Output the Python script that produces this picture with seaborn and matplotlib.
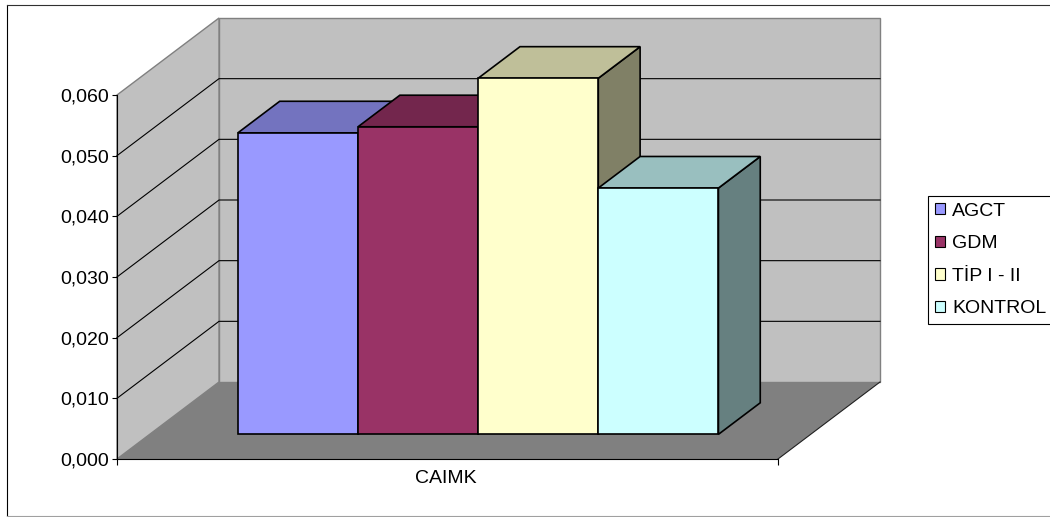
import numpy as np
import pandas as pd
import matplotlib
matplotlib.use("Agg")
import matplotlib.pyplot as plt
import seaborn as sns
from matplotlib.patches import Polygon, Patch
from matplotlib.lines import Line2D

# ---- data ----
categories = ["CAIMK"]
groups = ["AGCT", "GDM", "TİP I - II", "KONTROL"]
values = [0.0497, 0.0507, 0.0587, 0.0406]
yticks = [0.000, 0.010, 0.020, 0.030, 0.040, 0.050, 0.060]
ytick_labels = ["0,000", "0,010", "0,020", "0,030", "0,040", "0,050", "0,060"]

# ---- style ----
front_colors = ["#9999FF", "#993366", "#FFFFCC", "#CCFFFF"]
wall_color = "#C0C0C0"
floor_color = "#808080"
edge_gray = "#808080"
DEPTH_PX = (102, 77)        # oblique offset of the full chart depth, in pixels
BAR_DEPTH = (0.32, 0.73)    # bars occupy this slice of the depth

plt.rcParams["font.family"] = ["Liberation Sans", "DejaVu Sans"]

W, H = 1050, 517
fig = plt.figure(figsize=(W / 100, H / 100), dpi=100)
fig.patch.set_facecolor("white")
ax = fig.add_axes([117 / W, (H - 459) / H, 661 / W, 364 / H])

df = pd.DataFrame({
    "category": categories * len(groups),
    "group": groups,
    "value": values,
})

sns.barplot(data=df, x="category", y="value", hue="group", hue_order=groups,
            palette=front_colors, width=0.727, saturation=1, errorbar=None,
            edgecolor="black", linewidth=1.2, legend=False, ax=ax)

ax.set_xlim(-0.497, 0.503)
ax.set_ylim(0, 0.06)
ax.set_xlabel("")
ax.set_ylabel("")
ax.patch.set_visible(False)


def shift(d):
    x0, x1 = ax.get_xlim()
    y0, y1 = ax.get_ylim()
    return (DEPTH_PX[0] * d * (x1 - x0) / ax.bbox.width,
            DEPTH_PX[1] * d * (y1 - y0) / ax.bbox.height)


def pt(x, y, d):
    sx, sy = shift(d)
    return (x + sx, y + sy)


xa, xb = ax.get_xlim()
ya, yb = ax.get_ylim()

# back wall, side wall and floor
back = Polygon([pt(xa, ya, 1), pt(xb, ya, 1), pt(xb, yb, 1), pt(xa, yb, 1)],
               closed=True, facecolor=wall_color, edgecolor=edge_gray,
               linewidth=1.0, clip_on=False, zorder=0.5)
side = Polygon([pt(xa, ya, 0), pt(xa, ya, 1), pt(xa, yb, 1), pt(xa, yb, 0)],
               closed=True, facecolor=wall_color, edgecolor=edge_gray,
               linewidth=1.0, clip_on=False, zorder=0.6)
floor = Polygon([pt(xa, ya, 0), pt(xb, ya, 0), pt(xb, ya, 1), pt(xa, ya, 1)],
                closed=True, facecolor=floor_color, edgecolor="none",
                clip_on=False, zorder=0.7)
for p in (back, side, floor):
    ax.add_patch(p)

# right edge of the floor
fx = [pt(xb, ya, 0)[0], pt(xb, ya, 1)[0]]
fy = [pt(xb, ya, 0)[1], pt(xb, ya, 1)[1]]
ax.plot(fx, fy, color="#202020", linewidth=0.8, clip_on=False, zorder=0.8)

# gridlines across side wall and back wall
for v in yticks[1:-1]:
    p0, p1, p2 = pt(xa, v, 0), pt(xa, v, 1), pt(xb, v, 1)
    ax.plot([p0[0], p1[0], p2[0]], [p0[1], p1[1], p2[1]],
            color="black", linewidth=0.8, clip_on=False, zorder=1)

# 3-D bars: shift the front faces into depth and add top/side faces
d0, d1 = BAR_DEPTH
sx0, sy0 = shift(d0)
bars = [b for b in list(ax.patches) if b not in (back, side, floor)]
for i, bar in enumerate(bars):
    bx, bw, bh = bar.get_x(), bar.get_width(), bar.get_height()
    rgb = np.array(matplotlib.colors.to_rgb(front_colors[i]))
    z = 3 + i * 0.1
    bar.set_x(bx + sx0)
    bar.set_y(ya + sy0)
    bar.set_zorder(z + 0.02)
    bar.set_clip_on(False)
    top = Polygon([pt(bx, bh, d0), pt(bx + bw, bh, d0),
                   pt(bx + bw, bh, d1), pt(bx, bh, d1)],
                  closed=True, facecolor=rgb * 0.75, edgecolor="black",
                  linewidth=1.2, clip_on=False, zorder=z + 0.01)
    sd = Polygon([pt(bx + bw, ya, d0), pt(bx + bw, ya, d1),
                  pt(bx + bw, bh, d1), pt(bx + bw, bh, d0)],
                 closed=True, facecolor=rgb * 0.5, edgecolor="black",
                 linewidth=1.2, clip_on=False, zorder=z)
    ax.add_patch(sd)
    ax.add_patch(top)

# axes
for s in ("top", "right"):
    ax.spines[s].set_visible(False)
for s in ("left", "bottom"):
    ax.spines[s].set_color("black")
    ax.spines[s].set_linewidth(0.8)
    ax.spines[s].set_zorder(2)

ax.set_yticks(yticks)
ax.set_yticklabels(ytick_labels)
ax.tick_params(axis="y", length=3.6, width=0.8, pad=2, labelsize=14,
               color="black", labelcolor="black")

ax.set_xticks([0])
ax.set_xticklabels(categories)
ax.tick_params(axis="x", which="major", length=0, pad=8, labelsize=14,
               labelcolor="black")
ax.set_xticks([xa, xb], minor=True)
ax.tick_params(axis="x", which="minor", length=4.3, width=0.8, color="black")

# legend
handles = [Patch(facecolor=c, edgecolor="black", linewidth=0.8, label=g)
           for g, c in zip(groups, front_colors)]
leg = fig.legend(handles=handles, loc="upper left",
                 bbox_to_anchor=(928 / W, (H - 196) / H),
                 bbox_transform=fig.transFigure, frameon=True, fancybox=False,
                 edgecolor="black", framealpha=1, fontsize=14,
                 handlelength=0.5, handleheight=0.5, handletextpad=0.4,
                 borderpad=0.35, labelspacing=0.8, borderaxespad=0)
leg.get_frame().set_linewidth(0.8)

# chart area border
fig.add_artist(Line2D([7 / W, 7 / W], [(H - 516) / H, (H - 5) / H],
                      transform=fig.transFigure, color="black", linewidth=0.8))
fig.add_artist(Line2D([7 / W, 1.0], [(H - 5) / H, (H - 5) / H],
                      transform=fig.transFigure, color="#303030", linewidth=0.8))
fig.add_artist(Line2D([7 / W, 1.0], [(H - 516) / H, (H - 516) / H],
                      transform=fig.transFigure, color="#A0A0A0", linewidth=0.8))

fig.savefig("out.png", dpi=100)
